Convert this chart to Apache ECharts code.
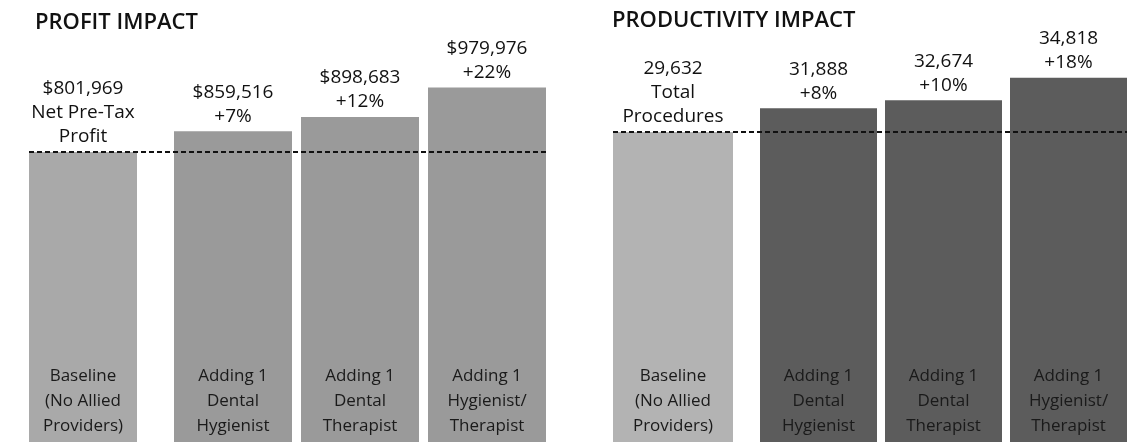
<!DOCTYPE html>
<html>
<head>
<meta charset="utf-8">
<script src="https://cdn.jsdelivr.net/npm/echarts@6/dist/echarts.min.js"></script>
<style>
  html, body { margin: 0; padding: 0; background: #fff; }
  #chart { width: 1148px; height: 445px; }
</style>
</head>
<body>
<div id="chart"></div>
<script>
// Scenario labels shown inside each bar
const scenarios = [
  'Baseline\n(No Allied\nProviders)',
  'Adding 1\nDental\nHygienist',
  'Adding 1\nDental\nTherapist',
  'Adding 1\nHygienist/\nTherapist'
];

// Net pre-tax profit per scenario (USD)
const profitValues = [801969, 859516, 898683, 979976];
const profitNotes = ['Net Pre-Tax\nProfit', '+7%', '+12%', '+22%'];

// Total procedures per scenario
const procedureValues = [29632, 31888, 32674, 34818];
const procedureNotes = ['Total\nProcedures', '+8%', '+10%', '+18%'];

const FONT = '"Open Sans", "Noto Sans", sans-serif';

function fmtMoney(v) { return '$' + v.toLocaleString('en-US'); }
function fmtCount(v) { return v.toLocaleString('en-US'); }

// Build the three grids (baseline bar, scenario bars, baseline reference line) of one panel
function buildPanel(opt, cfg) {
  const g0 = opt.grid.length;
  const L = cfg.layout;

  opt.grid.push(
    { left: L.baseLeft, width: L.baseWidth, top: L.top, height: L.height },
    { left: L.restLeft, width: L.restWidth, top: L.top, height: L.height },
    { left: L.lineLeft, width: L.lineWidth, top: L.top, height: L.height }
  );

  const yAx = (gi) => ({
    type: 'value', gridIndex: gi, min: 0, max: cfg.max, show: false
  });
  opt.yAxis.push(yAx(g0), yAx(g0 + 1), yAx(g0 + 2));
  opt.xAxis.push(
    { type: 'category', gridIndex: g0, data: cfg.categories.slice(0, 1), show: false },
    { type: 'category', gridIndex: g0 + 1, data: cfg.categories.slice(1), show: false },
    { type: 'value', gridIndex: g0 + 2, min: 0, max: 1, show: false }
  );
  const axBase = opt.xAxis.length - 3;

  const topLabel = (offset) => ({
    show: true,
    position: 'top',
    distance: 3,
    fontFamily: FONT,
    fontSize: 19,
    lineHeight: 24,
    color: '#111',
    align: 'center',
    formatter: (p) => cfg.fmt(cfg.values[p.dataIndex + offset]) + '\n' + cfg.notes[p.dataIndex + offset]
  });
  const bottomLabel = (offset) => ({
    show: true,
    position: 'insideBottom',
    distance: 3,
    fontFamily: FONT,
    fontSize: 17,
    lineHeight: 25,
    color: '#1a1a1a',
    align: 'center',
    formatter: (p) => cfg.categories[p.dataIndex + offset]
  });

  // Baseline bar
  opt.series.push({
    type: 'bar', xAxisIndex: axBase, yAxisIndex: g0,
    data: cfg.values.slice(0, 1),
    barWidth: '100%', barGap: '-100%',
    itemStyle: { color: cfg.baseColor },
    label: topLabel(0)
  }, {
    type: 'bar', xAxisIndex: axBase, yAxisIndex: g0,
    data: cfg.values.slice(0, 1),
    barWidth: '100%', barGap: '-100%',
    itemStyle: { color: 'rgba(0,0,0,0)' },
    label: bottomLabel(0), z: 4
  });

  // Scenario bars
  opt.series.push({
    type: 'bar', xAxisIndex: axBase + 1, yAxisIndex: g0 + 1,
    data: cfg.values.slice(1),
    barWidth: L.barWidth, barGap: '-100%',
    itemStyle: { color: cfg.barColor },
    label: topLabel(1)
  }, {
    type: 'bar', xAxisIndex: axBase + 1, yAxisIndex: g0 + 1,
    data: cfg.values.slice(1),
    barWidth: L.barWidth, barGap: '-100%',
    itemStyle: { color: 'rgba(0,0,0,0)' },
    label: bottomLabel(1), z: 4
  });

  // Dashed reference line at the baseline value
  opt.series.push({
    type: 'line', xAxisIndex: axBase + 2, yAxisIndex: g0 + 2,
    data: [[0, cfg.values[0]], [1, cfg.values[0]]],
    symbol: 'none', silent: true, z: 10,
    lineStyle: { color: '#111', width: 2, type: [5, 3] }
  });

  opt.title.push({
    text: cfg.title, left: L.titleLeft, top: L.titleTop, padding: 0,
    textStyle: { fontFamily: FONT, fontSize: 22, fontWeight: 600, color: '#111' }
  });
}

const option = {
  animation: false,
  backgroundColor: '#ffffff',
  title: [], grid: [], xAxis: [], yAxis: [], series: []
};

buildPanel(option, {
  title: 'PROFIT IMPACT',
  categories: scenarios,
  values: profitValues,
  notes: profitNotes,
  fmt: fmtMoney,
  max: 1200000,
  baseColor: '#a9a9a9',
  barColor: '#9a9a9a',
  layout: {
    titleLeft: 35, titleTop: 12,
    top: 8, height: 434,
    baseLeft: 29, baseWidth: 108,
    restLeft: 169.5, restWidth: 381, barWidth: 118,
    lineLeft: 29, lineWidth: 517
  }
});

buildPanel(option, {
  title: 'PRODUCTIVITY IMPACT',
  categories: scenarios,
  values: procedureValues,
  notes: procedureNotes,
  fmt: fmtCount,
  max: 40000,
  baseColor: '#b3b3b3',
  barColor: '#5c5c5c',
  layout: {
    titleLeft: 612, titleTop: 10,
    top: 23.5, height: 418.5,
    baseLeft: 613, baseWidth: 120,
    restLeft: 756, restWidth: 375, barWidth: 117,
    lineLeft: 613, lineWidth: 514
  }
});

const chart = echarts.init(document.getElementById('chart'), null, { renderer: 'canvas' });
chart.setOption(option);
</script>
</body>
</html>
